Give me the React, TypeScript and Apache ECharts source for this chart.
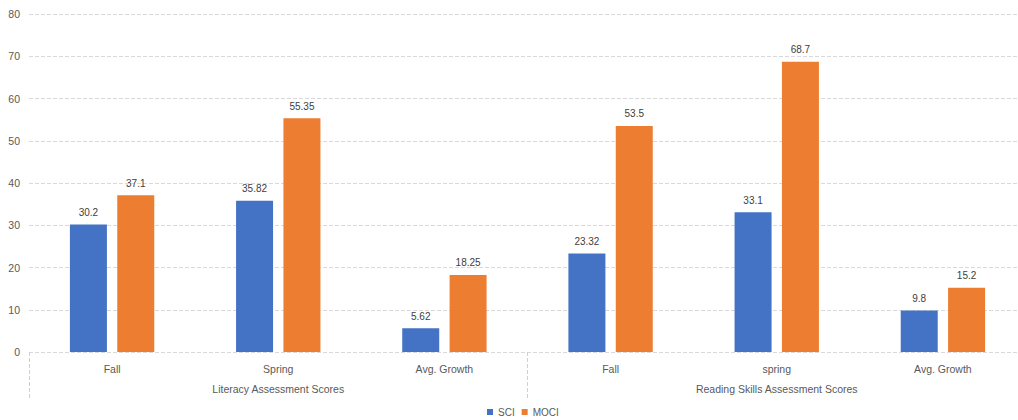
import React, { useEffect, useRef } from "react";
import * as echarts from "echarts";

const categories = ["Fall", "Spring", "Avg. Growth", "Fall", "spring", "Avg. Growth"];
const groups = ["Literacy Assessment Scores", "Reading Skills Assessment Scores"];
const sciValues = [30.2, 35.82, 5.62, 23.32, 33.1, 9.8];
const mociValues = [37.1, 55.35, 18.25, 53.5, 68.7, 15.2];
const yTicks = { min: 0, max: 80, interval: 10 };

const FONT = "'Liberation Sans', 'Open Sans', sans-serif";

export default function App() {
  const ref = useRef<HTMLDivElement>(null);
  useEffect(() => {
    if (!ref.current) return;
    const chart = echarts.init(ref.current, undefined, { renderer: "svg" });
    const labelStyle = {
      show: true,
      position: "top" as const,
      color: "#404040",
      fontSize: 10,
      fontFamily: FONT,
      distance: 7,
    };
    chart.setOption({
      animation: false,
      backgroundColor: "#ffffff",
      textStyle: { fontFamily: FONT },
      grid: { left: 29, right: 4, top: 14, bottom: 68, containLabel: false },
      legend: {
        top: 405,
        left: 485,
        padding: 2,
        icon: "rect",
        itemWidth: 6,
        itemHeight: 6,
        itemGap: 7,
        textStyle: { color: "#595959", fontSize: 10, fontFamily: FONT },
        data: ["SCI", "MOCI"],
      },
      xAxis: [
        {
          type: "category",
          position: "bottom",
          data: categories,
          axisLine: { show: false },
          axisTick: { show: false },
          axisLabel: { color: "#595959", fontSize: 10.5, fontFamily: FONT, margin: 11, interval: 0 },
        },
        {
          type: "category",
          position: "bottom",
          data: groups,
          axisLine: { show: false },
          axisTick: {
            show: true,
            length: 46,
            interval: 0,
            lineStyle: { color: "#d0d0d0", type: "dashed" },
          },
          axisLabel: { color: "#595959", fontSize: 10.5, fontFamily: FONT, margin: 31, interval: 0 },
        },
      ],
      yAxis: {
        type: "value",
        min: yTicks.min,
        max: yTicks.max,
        interval: yTicks.interval,
        axisLine: { show: false },
        axisTick: { show: false },
        axisLabel: { color: "#595959", fontSize: 10.5, fontFamily: FONT, margin: 9 },
        splitLine: { lineStyle: { color: "#d9d9d9", type: "dashed" } },
      },
      series: [
        {
          name: "SCI",
          type: "bar",
          xAxisIndex: 0,
          data: sciValues,
          barWidth: 37,
          barGap: "28%",
          itemStyle: { color: "#4472C4" },
          label: labelStyle,
        },
        {
          name: "MOCI",
          type: "bar",
          xAxisIndex: 0,
          data: mociValues,
          barWidth: 37,
          barGap: "28%",
          itemStyle: { color: "#ED7D31" },
          label: labelStyle,
        },
      ],
    });
    return () => chart.dispose();
  }, []);
  return (
    <div
      ref={ref}
      style={{ position: "fixed", left: 0, top: 0, width: 1030, height: 420, background: "#fff" }}
    />
  );
}
